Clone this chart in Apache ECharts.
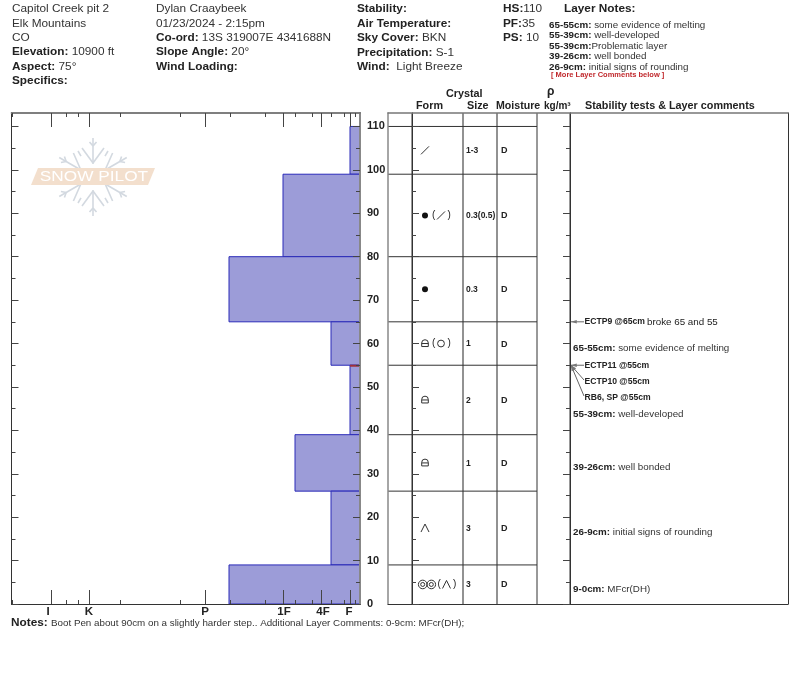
<!DOCTYPE html>
<html>
<head>
<meta charset="utf-8">
<title>Capitol Creek pit 2</title>
<script src="https://cdn.jsdelivr.net/npm/echarts@6/dist/echarts.min.js"></script>
<style>html,body{margin:0;padding:0;background:#fff}#chart{width:800px;height:676px}</style>
</head>
<body>
<div id="chart"></div>
<script>
// Snow layers, top of pack first (depths in cm above ground).
const layerTops = [110, 99, 80, 65, 55, 39, 26, 9];
const layerBottoms = [99, 80, 65, 55, 39, 26, 9, 0];
// Hand hardness in scale units, counted from the fist-soft end of the axis.
const layerHardness = [10, 77, 131, 29, 10, 65, 29, 131];
const layerForms = ['slash', 'round', 'round', 'facetRound', 'facetRound', 'facetRound', 'depthHoar', 'meltFreeze'];
const layerSecondForms = [null, 'slash', null, 'circle', null, null, null, 'depthHoar'];
const layerSizes = ['1-3', '0.3(0.5)', '0.3', '1', '2', '1', '3', '3'];
const layerMoisture = ['D', 'D', 'D', 'D', 'D', 'D', 'D', 'D'];
const problemLayerTops = [55];

// Axis ticks.
const hardnessLabels = ['I', 'K', 'P', '1F', '4F', 'F'];
const hardnessLabelValues = [312, 271, 155, 76, 37, 11];
const hardnessTicks = [309, 271, 155, 77, 39, 10];
const hardnessMinorTicks = [348, 294, 282, 240, 180, 130, 95, 65, 48, 29, 16, 5];
const depthTicks = [0, 10, 20, 30, 40, 50, 60, 70, 80, 90, 100, 110];
const depthMinorTicks = [5, 15, 25, 35, 45, 55, 65, 75, 85, 95, 105];

// Stability tests.
const testLabels = ['ECTP9 @65cm', 'ECTP11 @55cm', 'ECTP10 @55cm', 'RB6, SP @55cm'];
const testDepths = [65, 55, 55, 55];
const testNotes = ['broke 65 and 55', '', '', ''];

// Layer comments.
const commentRanges = ['65-55cm:', '55-39cm:', '39-26cm:', '26-9cm:', '9-0cm:'];
const commentTexts = ['some evidence of melting', 'well-developed', 'well bonded', 'initial signs of rounding', 'MFcr(DH)'];

// Page layout.
const FONT = '"Liberation Sans", Arial, sans-serif';
const DEPTH_MAX = 113.1;
const HARD_MAX = 348.5;
const PLOT = { top: 113, height: 491 };
const TABLE_W = 400;
const COL = { form: 24, size: 75, moisture: 109, rho: 149, comments: 182 };
const COLUMN_STYLES = [
  { x: COL.form, stroke: '#333', w: 1 },
  { x: COL.size, stroke: '#777', w: 1.6 },
  { x: COL.moisture, stroke: '#777', w: 1.6 },
  { x: COL.rho, stroke: '#333', w: 1 },
  { x: COL.comments, stroke: '#333', w: 1 }
];
const TEST_ROWS = [322, 366, 382, 398];
const COMMENT_ROWS = [348, 414, 467, 532, 589];

function hardnessAxis(position, values, length, withLabels) {
  return {
    gridIndex: 0, type: 'value', min: 0, max: HARD_MAX, inverse: true, position, z: 5,
    splitLine: { show: false },
    axisLine: { show: true, onZero: false, lineStyle: { color: position === 'top' ? '#777' : '#333', width: position === 'top' ? 1.5 : 1 } },
    axisTick: { show: true, inside: true, length, customValues: values, lineStyle: { color: '#444' } },
    axisLabel: withLabels ? {
      show: true, customValues: hardnessLabelValues, margin: 2, color: '#222',
      fontFamily: FONT, fontSize: 11.5, fontWeight: 'bold',
      formatter: v => hardnessLabels[hardnessLabelValues.indexOf(v)]
    } : { show: false }
  };
}

function depthAxis(gridIndex, position, values, length, withLabels, lineColor, lineWidth) {
  return {
    gridIndex, type: 'value', min: 0, max: DEPTH_MAX, position, z: 5,
    splitLine: { show: false },
    axisLine: { show: true, onZero: false, lineStyle: { color: lineColor, width: lineWidth } },
    axisTick: { show: true, inside: true, length, customValues: values, lineStyle: { color: '#444' } },
    axisLabel: withLabels ? {
      show: true, customValues: depthTicks, margin: 7, color: '#222', padding: [2, 0, 0, 0],
      fontFamily: FONT, fontSize: 11, fontWeight: 'bold'
    } : { show: false }
  };
}

// Crystal form symbols drawn around (cx, cy).
function glyph(kind, cx, cy) {
  const line = { stroke: '#333', lineWidth: 1, fill: null };
  switch (kind) {
    case 'slash':
      return [{ type: 'line', shape: { x1: cx - 4, y1: cy + 4, x2: cx + 4, y2: cy - 4 }, style: line }];
    case 'round':
      return [{ type: 'circle', shape: { cx, cy, r: 3 }, style: { fill: '#111' } }];
    case 'circle':
      return [{ type: 'circle', shape: { cx, cy, r: 3.4 }, style: line }];
    case 'depthHoar':
      return [{ type: 'polyline', shape: { points: [[cx - 4, cy + 4], [cx, cy - 4], [cx + 4, cy + 4]] }, style: line }];
    case 'facetRound':
      return [
        { type: 'arc', shape: { cx, cy: cy - 0.5, r: 3.3, startAngle: Math.PI, endAngle: 2 * Math.PI }, style: line },
        { type: 'polyline', shape: { points: [[cx - 3.3, cy - 0.5], [cx - 3.3, cy + 3], [cx + 3.3, cy + 3], [cx + 3.3, cy - 0.5]] }, style: line },
        { type: 'line', shape: { x1: cx - 3.3, y1: cy, x2: cx + 3.3, y2: cy }, style: line }
      ];
    case 'meltFreeze':
      return [-4.3, 4.3].flatMap(d => [
        { type: 'circle', shape: { cx: cx + d, cy, r: 4.3 }, style: line },
        { type: 'circle', shape: { cx: cx + d, cy, r: 2 }, style: line }
      ]);
  }
  return [];
}

function tableLabel(x, y, text, fontSize, fontWeight) {
  return {
    type: 'text',
    style: { x, y, text, fontSize, fontWeight, fontFamily: FONT, fill: '#222', textAlign: 'left', textVerticalAlign: 'middle', verticalAlign: 'middle' }
  };
}

function renderHardness(params, api) {
  const i = api.value(0);
  const a = api.coord([layerHardness[i], layerTops[i]]);
  const b = api.coord([0, layerBottoms[i]]);
  return {
    type: 'rect',
    shape: { x: a[0], y: a[1], width: b[0] - a[0], height: b[1] - a[1] },
    style: { fill: '#9c9cd8', stroke: '#2a2ab8', lineWidth: 1 }
  };
}

function renderProblemFlag(params, api) {
  const a = api.coord([hardnessTicks[5], problemLayerTops[api.value(0)]]);
  const b = api.coord([0, problemLayerTops[api.value(0)]]);
  return { type: 'line', shape: { x1: a[0], y1: a[1] + 0.5, x2: b[0], y2: b[1] + 0.5 }, style: { stroke: '#a0303a', lineWidth: 2 } };
}

function renderColumn(params, api) {
  const c = COLUMN_STYLES[api.value(0)];
  const a = api.coord([c.x, 0]);
  const b = api.coord([c.x, DEPTH_MAX]);
  return { type: 'line', shape: { x1: a[0], y1: a[1], x2: b[0], y2: b[1] }, style: { stroke: c.stroke, lineWidth: c.w } };
}

function renderRow(params, api) {
  const i = api.value(0);
  const left = api.coord([0, layerTops[i]]);
  const right = api.coord([COL.rho, layerTops[i]]);
  const mid = api.coord([COL.form, (layerTops[i] + layerBottoms[i]) / 2]);
  const cy = mid[1];
  const first = layerForms[i];
  const cx = mid[0] + (first === 'meltFreeze' ? 15 : 13);
  const children = [
    { type: 'line', shape: { x1: left[0], y1: left[1], x2: right[0], y2: right[1] }, style: { stroke: '#333', lineWidth: 1 } },
    ...glyph(first, cx, cy)
  ];
  const second = layerSecondForms[i];
  if (second) {
    const gap = first === 'meltFreeze' ? 10.5 : 7;
    children.push(tableLabel(cx + gap, cy, '(', 10, 'normal'));
    children.push(...glyph(second, cx + gap + 9, cy));
    children.push(tableLabel(cx + gap + 15.5, cy, ')', 10, 'normal'));
  }
  children.push(tableLabel(api.coord([COL.size + 3, 0])[0], cy + 0.5, layerSizes[i], 8.5, 'bold'));
  children.push(tableLabel(api.coord([COL.moisture + 4, 0])[0], cy + 0.5, layerMoisture[i], 9, 'bold'));
  return { type: 'group', children };
}

function renderTest(params, api) {
  const i = api.value(0);
  const tip = api.coord([COL.comments + 1, testDepths[i]]);
  const rowY = TEST_ROWS[i];
  const tailX = tip[0] + 13;
  const tailY = i < 2 ? tip[1] : rowY - 2;
  const ang = Math.atan2(tailY - tip[1], tailX - tip[0]);
  const head = (d, spread) => [tip[0] + d * Math.cos(ang + spread), tip[1] + d * Math.sin(ang + spread)];
  const children = [
    { type: 'line', shape: { x1: tailX, y1: tailY, x2: tip[0], y2: tip[1] }, style: { stroke: '#666', lineWidth: 1 } },
    { type: 'polygon', shape: { points: [[tip[0], tip[1]], head(6, 0.3), head(6, -0.3)] }, style: { fill: '#777' } },
    tableLabel(tailX + 0.5, rowY, testLabels[i], 8.6, 'bold')
  ];
  if (testNotes[i]) children.push(tableLabel(tailX + 63, rowY, testNotes[i], 9.8, 'normal'));
  return { type: 'group', children };
}

// Text placed on the page outside the plots.
function note(x, y, text, size, opts) {
  const o = opts || {};
  const r = {
    b: { fontFamily: FONT, fontWeight: 'bold', fontSize: size, fill: '#222' },
    n: { fontFamily: FONT, fontSize: size, fill: '#333' }
  };
  return {
    type: 'text', silent: true, z: 20, x, y,
    style: {
      text, rich: r, fontFamily: FONT, fontSize: size, fontWeight: o.weight || 'normal',
      fill: o.fill || '#333', align: o.align || 'left', verticalAlign: 'middle',
      textAlign: o.align || 'left', textVerticalAlign: 'middle'
    }
  };
}

const H = 11.8;
const headerText = [
  note(12, 9, 'Capitol Creek pit 2', H), note(12, 24, 'Elk Mountains', H), note(12, 38, 'CO', H),
  note(12, 52, '{b|Elevation:} {n|10900 ft}', H), note(12, 67, '{b|Aspect:} {n|75°}', H), note(12, 81, '{b|Specifics:}', H),
  note(156, 9, 'Dylan Craaybeek', H), note(156, 24, '01/23/2024 - 2:15pm', H),
  note(156, 38, '{b|Co-ord:} {n|13S 319007E 4341688N}', H), note(156, 52, '{b|Slope Angle:} {n|20°}', H), note(156, 67, '{b|Wind Loading:}', H),
  note(357, 9, '{b|Stability:}', H), note(357, 24, '{b|Air Temperature:}', H), note(357, 38, '{b|Sky Cover:} {n|BKN}', H),
  note(357, 53, '{b|Precipitation:} {n|S-1}', H), note(357, 67, '{b|Wind:}  {n|Light Breeze}', H),
  note(503, 9, '{b|HS:}{n|110}', H), note(503, 24, '{b|PF:}{n|35}', H), note(503, 38, '{b|PS:} {n|10}', H),
  note(564, 9, '{b|Layer Notes:}', H),
  note(549, 25, '{b|65-55cm:} {n|some evidence of melting}', 9.8),
  note(549, 35, '{b|55-39cm:} {n|well-developed}', 9.8),
  note(549, 46, '{b|55-39cm:}{n|Problematic layer}', 9.8),
  note(549, 56, '{b|39-26cm:} {n|well bonded}', 9.8),
  note(549, 67, '{b|26-9cm:} {n|initial signs of rounding}', 9.8),
  note(551, 75, '[ More Layer Comments below ]', 7.5, { fill: '#c0282c', weight: 'bold' }),
  note(446, 94, '{b|Crystal}', 10.8), note(416, 106, '{b|Form}', 10.8), note(467, 106, '{b|Size}', 10.8),
  note(496, 106, '{b|Moisture}', 10.6), note(547, 92, '{b|ρ}', 12), note(544, 106, '{b|kg/m³}', 10),
  note(585, 106, '{b|Stability tests & Layer comments}', 10.8),
  note(11, 623, '{b|Notes:}', 11.8),
  note(51, 623, 'Boot Pen about 90cm on a slightly harder step.. Additional Layer Comments: 0-9cm: MFcr(DH);', 9.8)
];
const commentText = commentRanges.map((r, i) =>
  note(573, COMMENT_ROWS[i], '{b|' + r + '} {n|' + commentTexts[i] + '}', 9.8));

// Snowflake and banner behind the profile.
function watermark() {
  const cx = 93, cy = 177, stroke = '#d3d9e0';
  const lines = [];
  const add = (r1, o1, r2, o2, a) => {
    const ux = Math.cos(a), uy = Math.sin(a), vx = -uy, vy = ux;
    lines.push({
      type: 'line', silent: true, z: 1,
      shape: { x1: cx + ux * r1 + vx * o1, y1: cy + uy * r1 + vy * o1, x2: cx + ux * r2 + vx * o2, y2: cy + uy * r2 + vy * o2 },
      style: { stroke, lineWidth: 1.6 }
    });
  };
  for (let k = 0; k < 6; k++) {
    const a = Math.PI / 2 + k * Math.PI / 3;
    add(13, 0, 39, 0, a);
    [-1, 1].forEach(s => {
      add(14, 0, 29, 11 * s, a);
      add(31, 0, 35, 3.5 * s, a);
    });
    add(24, 0, 30, 0, a + Math.PI / 6);
  }
  return [
    ...lines,
    { type: 'polygon', silent: true, z: 2, shape: { points: [[38, 168], [155, 168], [148, 185], [31, 185]] }, style: { fill: '#f3dfcd' } },
    { type: 'text', silent: true, z: 3, x: 94, y: 177, scaleX: 1.15, originX: 0,
      style: { text: 'SNOW PILOT', fontFamily: FONT, fontSize: 15, fill: '#fff', textAlign: 'center', textVerticalAlign: 'middle', align: 'center', verticalAlign: 'middle' } }
  ];
}

const indices = a => a.map((_, i) => [i]);
const hidden = { show: false };

const option = {
  animation: false,
  backgroundColor: '#fff',
  textStyle: { fontFamily: FONT },
  grid: [
    { left: 11.5, width: 348.5, top: PLOT.top, height: PLOT.height },
    { left: 388, width: TABLE_W, top: PLOT.top, height: PLOT.height },
    { left: 388 + COL.form, width: COL.comments - COL.form, top: PLOT.top, height: PLOT.height }
  ],
  xAxis: [
    hardnessAxis('bottom', hardnessTicks, 14, true),
    hardnessAxis('bottom', hardnessMinorTicks, 4, false),
    hardnessAxis('top', hardnessTicks, 14, false),
    hardnessAxis('top', hardnessMinorTicks, 4, false),
    // Table columns are laid out on their own unit scale.
    { gridIndex: 1, type: 'value', min: 0, max: TABLE_W, show: true, position: 'bottom', z: 5,
      splitLine: hidden, axisTick: hidden, axisLabel: hidden, axisLine: { onZero: false, lineStyle: { color: '#333' } } },
    { gridIndex: 1, type: 'value', min: 0, max: TABLE_W, show: true, position: 'top', z: 5,
      splitLine: hidden, axisTick: hidden, axisLabel: hidden, axisLine: { onZero: false, lineStyle: { color: '#777', width: 1.5 } } },
    { gridIndex: 2, type: 'value', min: 0, max: 1, show: false }
  ],
  yAxis: [
    depthAxis(0, 'left', depthTicks, 7, false, '#333', 1),
    depthAxis(0, 'left', depthMinorTicks, 4, false, '#333', 1),
    depthAxis(0, 'right', depthTicks, 7, true, '#888', 2),
    depthAxis(0, 'right', depthMinorTicks, 4, false, '#888', 2),
    { gridIndex: 1, type: 'value', min: 0, max: DEPTH_MAX, position: 'left', z: 5,
      splitLine: hidden, axisTick: hidden, axisLabel: hidden, axisLine: { show: true, onZero: false, lineStyle: { color: '#888', width: 1.5 } } },
    { gridIndex: 1, type: 'value', min: 0, max: DEPTH_MAX, position: 'right', z: 5,
      splitLine: hidden, axisTick: hidden, axisLabel: hidden, axisLine: { show: true, onZero: false, lineStyle: { color: '#333' } } },
    depthAxis(2, 'left', depthTicks, 7, false, '#333', 1),
    depthAxis(2, 'left', depthMinorTicks, 4, false, '#333', 1),
    depthAxis(2, 'right', depthTicks, 7, false, '#333', 1),
    depthAxis(2, 'right', depthMinorTicks, 4, false, '#333', 1)
  ],
  series: [
    { type: 'custom', name: 'Hardness', xAxisIndex: 0, yAxisIndex: 0, clip: false, z: 2, renderItem: renderHardness, data: indices(layerTops) },
    { type: 'custom', name: 'Problem layer', xAxisIndex: 0, yAxisIndex: 0, clip: false, z: 3, renderItem: renderProblemFlag, data: indices(problemLayerTops) },
    { type: 'custom', name: 'Columns', xAxisIndex: 4, yAxisIndex: 4, clip: false, z: 2, renderItem: renderColumn, data: indices(COLUMN_STYLES) },
    { type: 'custom', name: 'Layers', xAxisIndex: 4, yAxisIndex: 4, clip: false, z: 3, renderItem: renderRow, data: indices(layerTops) },
    { type: 'custom', name: 'Stability tests', xAxisIndex: 4, yAxisIndex: 4, clip: false, z: 3, renderItem: renderTest, data: indices(testLabels) }
  ],
  graphic: { elements: [...watermark(), ...headerText, ...commentText] }
};

echarts.init(document.getElementById('chart'), null, { renderer: 'canvas' }).setOption(option);
</script>
</body>
</html>
